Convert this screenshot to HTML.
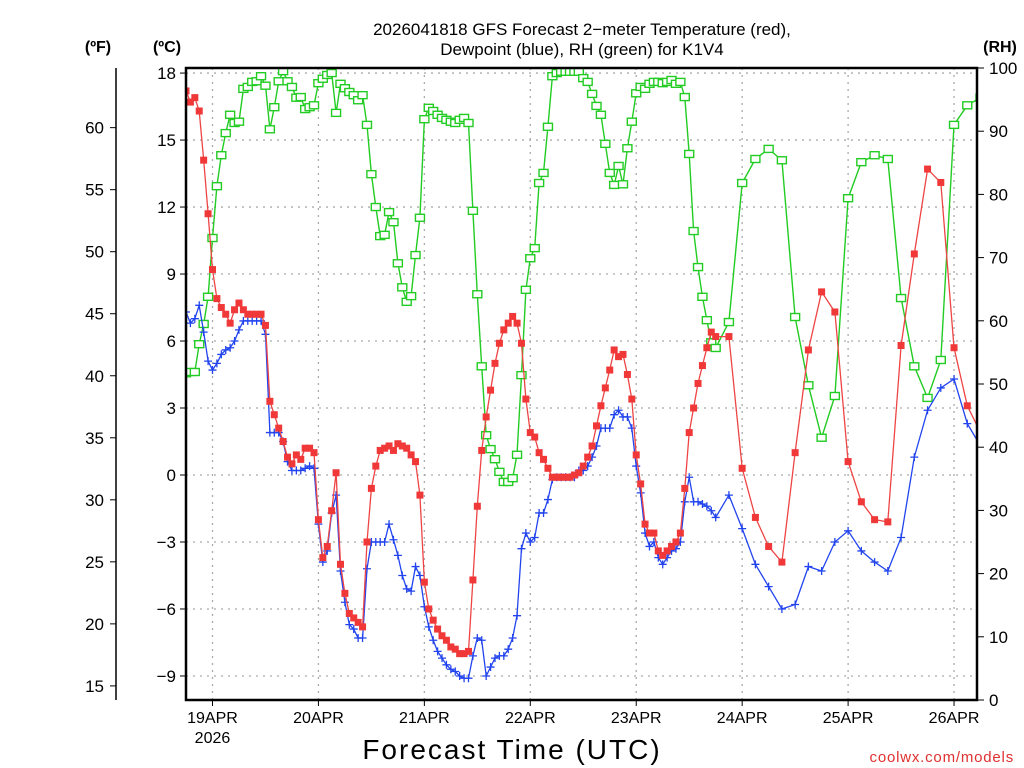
<!DOCTYPE html>
<html><head><meta charset="utf-8"><title>GFS Forecast K1V4</title>
<style>
html,body{margin:0;padding:0;background:#fff;}
svg{display:block;font-family:"Liberation Sans",sans-serif;}
</style></head>
<body>
<svg id="chart" width="1024" height="768" viewBox="0 0 1024 768" xmlns="http://www.w3.org/2000/svg">
<rect x="0" y="0" width="1024" height="768" fill="#fff"/>
<text x="582" y="35" text-anchor="middle" font-size="17" fill="#000">2026041818 GFS Forecast 2−meter Temperature (red),</text>
<text x="582" y="55" text-anchor="middle" font-size="17" fill="#000">Dewpoint (blue), RH (green) for K1V4</text>
<text x="98" y="52" text-anchor="middle" font-size="16" font-weight="bold">(ºF)</text>
<text x="167" y="52" text-anchor="middle" font-size="16" font-weight="bold">(ºC)</text>
<text x="1000" y="52" text-anchor="middle" font-size="16" font-weight="bold">(RH)</text>
<g id="grid"></g>
<g id="axes"></g>
<defs><clipPath id="plotclip"><rect x="186" y="66" width="791" height="636"/></clipPath></defs>
<g id="series" clip-path="url(#plotclip)"></g>
<rect x="186" y="68" width="791" height="632" fill="none" stroke="#000" stroke-width="2.5"/>
<text x="512" y="759" text-anchor="middle" font-size="28" letter-spacing="2" fill="#000">Forecast Time (UTC)</text>
<text x="1014" y="762" text-anchor="end" font-size="15" fill="#e03030" letter-spacing="0.8">coolwx.com/models</text>
</svg>
<script>
const hours = [0,1,2,3,4,5,6,7,8,9,10,11,12,13,14,15,16,17,18,19,20,21,22,23,24,25,26,27,28,29,30,31,32,33,34,35,36,37,38,39,40,41,42,43,44,45,46,47,48,49,50,51,52,53,54,55,56,57,58,59,60,61,62,63,64,65,66,67,68,69,70,71,72,73,74,75,76,77,78,79,80,81,82,83,84,85,86,87,88,89,90,91,92,93,94,95,96,97,98,99,100,101,102,103,104,105,106,107,108,109,110,111,112,113,114,115,116,117,118,119,120,123,126,129,132,135,138,141,144,147,150,153,156,159,162,165,168,171,174,177,180];
const tempC = [17.2,16.7,16.9,16.3,14.1,11.7,9.2,7.9,7.5,7.2,6.8,7.4,7.7,7.4,7.2,7.2,7.2,7.2,6.7,3.3,2.7,2.1,1.5,0.8,0.5,0.9,0.7,1.2,1.2,1.0,-2.0,-3.7,-3.2,-1.6,0.1,-4.0,-5.3,-6.2,-6.4,-6.6,-6.8,-3.0,-0.6,0.4,1.1,1.2,1.3,1.1,1.4,1.3,1.2,0.9,0.6,-0.9,-4.8,-6.0,-6.5,-6.9,-7.2,-7.4,-7.7,-7.8,-8.0,-8.0,-7.9,-4.7,-1.4,1.1,2.6,3.8,5.0,5.9,6.5,6.8,7.1,6.8,5.9,3.4,1.9,1.7,1.0,0.7,0.3,-0.1,-0.1,-0.1,-0.1,-0.1,0.0,0.1,0.4,0.8,1.3,2.2,3.1,3.9,4.7,5.6,5.3,5.4,4.5,3.4,0.9,-0.4,-2.2,-2.6,-2.6,-3.4,-3.6,-3.4,-3.2,-3.0,-2.6,-0.6,1.9,3.0,4.1,4.9,5.7,6.4,6.2,6.2,0.3,-1.9,-3.2,-3.9,1.0,5.6,8.2,7.3,0.6,-1.2,-2.0,-2.1,5.8,9.9,13.7,13.1,5.7,3.1,1.9];
const dewC = [7.3,6.8,7.0,7.6,6.4,5.1,4.7,5.0,5.4,5.6,5.7,6.0,6.5,6.9,6.9,6.9,6.9,6.9,6.3,1.9,1.9,1.9,1.5,0.6,0.2,0.2,0.2,0.3,0.4,0.3,-2.2,-3.9,-3.4,-1.7,-0.9,-4.3,-5.7,-6.7,-6.9,-7.3,-7.3,-4.2,-3.0,-3.0,-3.0,-3.0,-2.2,-2.9,-3.6,-4.5,-5.1,-5.2,-4.1,-4.5,-5.9,-6.8,-7.4,-7.9,-8.2,-8.5,-8.7,-8.8,-9.0,-9.1,-9.1,-8.1,-7.3,-7.4,-9.0,-8.6,-8.2,-8.1,-8.1,-7.8,-7.3,-6.3,-3.3,-2.6,-3.0,-2.8,-1.7,-1.7,-1.1,-0.2,-0.1,-0.1,-0.1,-0.1,-0.1,0.2,0.2,0.4,0.8,1.3,2.1,2.1,2.1,2.7,2.9,2.6,2.6,2.1,0.4,-0.8,-2.6,-3.2,-3.0,-3.7,-4.0,-3.7,-3.4,-3.3,-3.0,-1.2,-0.1,-1.2,-1.2,-1.3,-1.4,-1.6,-1.9,-0.9,-2.4,-4.0,-5.0,-6.0,-5.8,-4.1,-4.3,-3.0,-2.5,-3.4,-3.9,-4.3,-2.8,0.8,2.9,3.9,4.3,2.3,1.3];
const rh = [51.7,51.9,51.9,56.3,59.5,63.8,73.1,81.3,86.2,89.7,92.6,91.3,91.5,96.7,97.0,97.8,97.9,98.7,97.2,90.3,93.8,97.9,99.5,97.9,97.0,95.3,95.4,93.5,93.8,94.1,97.6,98.3,98.9,99.2,92.9,97.5,96.8,96.2,95.7,94.9,95.7,91.0,83.2,78.0,73.4,73.6,77.2,75.6,69.1,65.3,63.0,63.9,70.4,76.3,91.9,93.7,93.2,92.6,92.1,91.8,91.5,91.3,91.8,92.1,91.3,77.4,64.2,52.8,41.9,39.7,38.1,36.1,34.5,34.5,35.1,38.8,51.4,64.9,69.9,71.5,81.8,83.4,90.7,98.7,99.2,99.4,99.4,99.4,99.4,99.4,98.4,97.8,95.9,94.0,92.6,88.0,83.4,81.5,84.5,81.6,87.3,91.5,96.0,97.0,96.7,97.5,97.8,97.8,97.6,97.8,98.1,97.5,97.8,95.4,86.4,74.2,68.5,63.8,60.1,56.6,55.7,59.8,81.8,85.6,87.2,85.4,60.6,49.8,41.5,48.1,79.4,85.1,86.2,85.6,63.6,52.8,47.8,53.8,91.0,94.1,95.3];
const celsiusTicks = [18,15,12,9,6,3,0,-3,-6,-9];
const fahrenheitTicks = [60,55,50,45,40,35,30,25,20,15];
const rhTicks = [100,90,80,70,60,50,40,30,20,10,0];
const dayHours = [6,30,54,78,102,126,150,174];
const dayLabels = ["19APR","20APR","21APR","22APR","23APR","24APR","25APR","26APR"];

const NS = "http://www.w3.org/2000/svg";
function fx(h){ return 186 + (h) * 4.414; }
function fyC(c){ return 475 - c * 22.33; }
function fyRH(r){ return 700 - r * 6.32; }
function mk(tag, attrs, parent){ const e = document.createElementNS(NS, tag); for (const k in attrs) e.setAttribute(k, attrs[k]); parent.appendChild(e); return e; }

const grid = document.getElementById('grid');
const axes = document.getElementById('axes');
const series = document.getElementById('series');

celsiusTicks.forEach(c => {
  const y = fyC(c);
  const g = mk('line', {x1:186, x2:977, y1:y, y2:y, stroke:'#aaa', 'stroke-width':1.3, 'stroke-dasharray':'2,5'}, grid);
  
  
  const t = mk('line', {x1:180, x2:186, y1:y, y2:y, stroke:'#000', 'stroke-width':1}, axes);
  
  
  const lbl = mk('text', {x:176, y:y+6, 'text-anchor':'end', 'font-size':17, fill:'#000'}, axes);
  lbl.textContent = c < 0 ? '−' + Math.abs(c) : String(c);
  
  
});
dayHours.forEach((h, i) => {
  const x = fx(h);
  const g = mk('line', {x1:x, x2:x, y1:68, y2:700, stroke:'#aaa', 'stroke-width':1.3, 'stroke-dasharray':'2,5'}, grid);
  
  
  const t = mk('line', {x1:x, x2:x, y1:700, y2:706, stroke:'#000', 'stroke-width':1}, axes);
  
  
  const lbl = mk('text', {x:x, y:723, 'text-anchor':'middle', 'font-size':16, fill:'#000'}, axes);
  lbl.textContent = dayLabels[i];
  
  
});
const yr = mk('text', {x:fx(6), y:743, 'text-anchor':'middle', 'font-size':16, fill:'#000'}, axes);
yr.textContent = '2026';



const fl = mk('line', {x1:116, x2:116, y1:68, y2:700, stroke:'#000', 'stroke-width':1.5}, axes);


fahrenheitTicks.forEach(f => {
  const y = fyC((f - 32) * 5 / 9);
  const t = mk('line', {x1:110, x2:116, y1:y, y2:y, stroke:'#000', 'stroke-width':1}, axes);
  
  
  const lbl = mk('text', {x:104, y:y+6, 'text-anchor':'end', 'font-size':17, fill:'#000'}, axes);
  lbl.textContent = String(f);
  
  
});
rhTicks.forEach(r => {
  const y = fyRH(r);
  const t = mk('line', {x1:977, x2:984, y1:y, y2:y, stroke:'#000', 'stroke-width':1}, axes);
  
  
  const lbl = mk('text', {x:989, y:y+6, 'text-anchor':'start', 'font-size':17, fill:'#000'}, axes);
  lbl.textContent = String(r);
  
  
});

function pts(vals, fy){ return hours.map((h, i) => fx(h).toFixed(1) + ',' + fy(vals[i]).toFixed(1)).join(' '); }

const rhLine = mk('polyline', {points:pts(rh, fyRH), fill:'none', stroke:'#22cc22', 'stroke-width':1.4}, series);


hours.forEach((h, i) => {
  const m = mk('rect', {x:fx(h)-4.5, y:fyRH(rh[i])-3.5, width:9, height:7, fill:'#fff', stroke:'#22cc22', 'stroke-width':1.4}, series);
  
  
});
const dLine = mk('polyline', {points:pts(dewC, fyC), fill:'none', stroke:'#2244ee', 'stroke-width':1.3}, series);


hours.forEach((h, i) => {
  const x = fx(h), y = fyC(dewC[i]);
  const m = mk('path', {d:`M${x-4},${y}H${x+4}M${x},${y-4}V${y+4}`, stroke:'#2244ee', 'stroke-width':1.3, fill:'none'}, series);
  
  
});
const tLine = mk('polyline', {points:pts(tempC, fyC), fill:'none', stroke:'#ee4444', 'stroke-width':1.3}, series);


hours.forEach((h, i) => {
  const m = mk('rect', {x:fx(h)-3.5, y:fyC(tempC[i])-3.5, width:7, height:7, fill:'#f03838'}, series);
  
  
});
</script>
</body></html>
